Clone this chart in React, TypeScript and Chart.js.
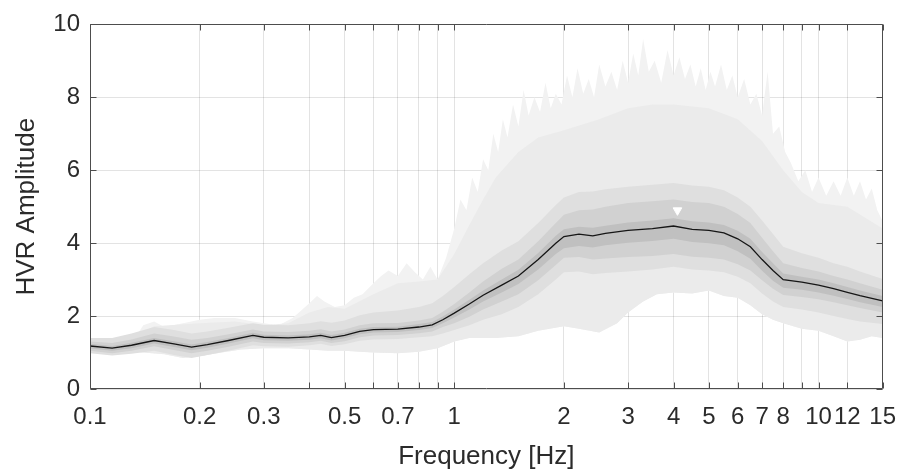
import React, { useEffect, useRef } from 'react';
import { Chart, registerables } from 'chart.js';

Chart.register(...registerables);

// Frequencies (Hz) for the median curve and percentile bands
const FREQ = [0.1, 0.115, 0.13, 0.15, 0.17, 0.19, 0.21, 0.24, 0.28, 0.3, 0.35, 0.4, 0.43, 0.46, 0.5, 0.55, 0.6, 0.7, 0.8, 0.87, 0.93, 1.0, 1.1, 1.2, 1.35, 1.5, 1.7, 1.9, 2.0, 2.2, 2.4, 2.6, 3.0, 3.5, 4.0, 4.5, 5.0, 5.5, 6.0, 6.5, 7.0, 7.5, 8.0, 9.0, 10, 11, 12, 13, 15];

const MEDIAN = [1.18, 1.12, 1.20, 1.33, 1.24, 1.15, 1.22, 1.33, 1.47, 1.42, 1.40, 1.43, 1.47, 1.41, 1.47, 1.58, 1.63, 1.64, 1.70, 1.76, 1.90, 2.08, 2.33, 2.57, 2.85, 3.10, 3.55, 4.00, 4.18, 4.25, 4.20, 4.27, 4.35, 4.40, 4.47, 4.38, 4.35, 4.28, 4.12, 3.90, 3.55, 3.25, 3.00, 2.93, 2.85, 2.75, 2.65, 2.56, 2.42];

// Inner (darkest) band
const BAND4_UP = [1.24, 1.18, 1.27, 1.40, 1.31, 1.22, 1.29, 1.40, 1.54, 1.49, 1.47, 1.50, 1.54, 1.48, 1.54, 1.65, 1.70, 1.71, 1.78, 1.84, 1.99, 2.18, 2.45, 2.70, 3.00, 3.27, 3.73, 4.20, 4.38, 4.45, 4.42, 4.48, 4.57, 4.62, 4.68, 4.60, 4.57, 4.50, 4.34, 4.12, 3.76, 3.45, 3.17, 3.08, 3.00, 2.90, 2.80, 2.70, 2.55];
const BAND4_LO = [1.11, 1.05, 1.12, 1.25, 1.15, 1.06, 1.13, 1.25, 1.39, 1.34, 1.32, 1.35, 1.39, 1.33, 1.39, 1.50, 1.55, 1.56, 1.62, 1.67, 1.80, 1.96, 2.18, 2.40, 2.65, 2.88, 3.28, 3.70, 3.86, 3.92, 3.88, 3.94, 4.01, 4.06, 4.12, 4.03, 4.00, 3.94, 3.78, 3.57, 3.24, 2.97, 2.78, 2.72, 2.65, 2.56, 2.47, 2.38, 2.25];

// Middle band
const BAND3_UP = [1.30, 1.26, 1.36, 1.52, 1.44, 1.35, 1.40, 1.50, 1.63, 1.58, 1.56, 1.60, 1.64, 1.58, 1.63, 1.75, 1.80, 1.81, 1.88, 1.95, 2.12, 2.33, 2.65, 2.95, 3.30, 3.55, 4.05, 4.55, 4.78, 4.90, 4.92, 5.00, 5.10, 5.15, 5.20, 5.13, 5.10, 5.00, 4.80, 4.55, 4.15, 3.78, 3.45, 3.32, 3.22, 3.10, 3.00, 2.90, 2.72];
const BAND3_LO = [1.05, 0.98, 1.05, 1.17, 1.07, 0.98, 1.05, 1.16, 1.30, 1.26, 1.25, 1.28, 1.32, 1.26, 1.31, 1.42, 1.47, 1.48, 1.53, 1.58, 1.70, 1.80, 1.98, 2.18, 2.40, 2.60, 2.98, 3.40, 3.60, 3.62, 3.55, 3.58, 3.62, 3.65, 3.70, 3.63, 3.60, 3.55, 3.42, 3.25, 2.98, 2.75, 2.58, 2.52, 2.46, 2.38, 2.30, 2.22, 2.10];

// Outer percentile band
const BAND2_UP = [1.40, 1.40, 1.52, 1.70, 1.62, 1.52, 1.58, 1.68, 1.80, 1.76, 1.75, 1.80, 1.86, 1.82, 1.88, 2.02, 2.10, 2.15, 2.25, 2.35, 2.55, 2.80, 3.15, 3.45, 3.80, 4.05, 4.55, 5.05, 5.25, 5.40, 5.42, 5.48, 5.55, 5.60, 5.65, 5.58, 5.55, 5.45, 5.25, 5.00, 4.62, 4.25, 3.90, 3.72, 3.60, 3.45, 3.35, 3.22, 3.02];
const BAND2_LO = [0.98, 0.92, 0.97, 1.05, 0.93, 0.85, 0.93, 1.05, 1.20, 1.17, 1.16, 1.20, 1.24, 1.18, 1.23, 1.32, 1.36, 1.37, 1.42, 1.45, 1.52, 1.62, 1.75, 1.90, 2.05, 2.25, 2.60, 3.00, 3.20, 3.22, 3.15, 3.18, 3.22, 3.28, 3.35, 3.28, 3.25, 3.20, 3.08, 2.90, 2.62, 2.40, 2.25, 2.18, 2.10, 2.00, 1.92, 1.85, 1.78];

// Solid part of the light envelope (upper)
const ENV_FREQ = [0.1, 0.13, 0.15, 0.2, 0.25, 0.3, 0.35, 0.4, 0.45, 0.5, 0.6, 0.7, 0.8, 0.9, 1.0, 1.1, 1.2, 1.3, 1.5, 1.7, 2.0, 2.5, 3.0, 3.5, 4.0, 5.0, 6.0, 7.0, 8.0, 9.0, 10, 12, 15];
const ENV_VAL = [1.25, 1.4, 1.72, 1.8, 1.85, 1.75, 1.8, 2.1, 2.25, 2.2, 2.6, 2.9, 2.95, 3.0, 3.7, 4.5, 5.2, 5.8, 6.5, 6.9, 7.1, 7.4, 7.7, 7.8, 7.8, 7.7, 7.4, 6.8, 6.0, 5.4, 5.1, 5.0, 4.4];

// Envelope (all windows) maximum, spiky
const MAX_FREQ = [0.1, 0.12, 0.135, 0.14, 0.15, 0.16, 0.18, 0.2, 0.22, 0.25, 0.28, 0.3, 0.33, 0.36, 0.38, 0.4, 0.42, 0.44, 0.47, 0.5, 0.53, 0.56, 0.6, 0.63, 0.66, 0.7, 0.74, 0.78, 0.82, 0.86, 0.9, 0.95, 1.0, 1.04, 1.08, 1.12, 1.16, 1.2, 1.24, 1.28, 1.32, 1.36, 1.4, 1.45, 1.5, 1.55, 1.6, 1.66, 1.72, 1.78, 1.84, 1.9, 1.97, 2.04, 2.11, 2.18, 2.26, 2.34, 2.42, 2.5, 2.6, 2.7, 2.8, 2.9, 3.0, 3.1, 3.2, 3.3, 3.42, 3.55, 3.7, 3.85, 4.0, 4.15, 4.3, 4.45, 4.6, 4.75, 4.9, 5.05, 5.2, 5.4, 5.6, 5.8, 6.0, 6.25, 6.5, 6.75, 7.0, 7.25, 7.5, 7.8, 8.1, 8.4, 8.8, 9.2, 9.6, 10, 10.5, 11, 11.5, 12, 12.5, 13, 13.5, 14, 14.5, 15];
const MAX_VAL = [1.25, 1.3, 1.5, 1.75, 1.85, 1.7, 1.8, 1.9, 1.95, 1.95, 1.85, 1.8, 1.75, 1.95, 2.15, 2.35, 2.55, 2.4, 2.25, 2.3, 2.5, 2.6, 2.9, 3.1, 3.25, 3.1, 3.45, 3.2, 3.0, 3.35, 3.0, 3.6, 4.4, 5.2, 4.9, 5.8, 5.4, 6.3, 6.0, 7.0, 6.5, 7.4, 6.9, 7.8, 7.2, 8.2, 7.5, 8.0, 7.6, 8.4, 7.7, 8.1, 7.8, 8.6, 8.0, 8.8, 8.1, 8.5, 8.0, 8.9, 8.3, 8.7, 8.2, 9.0, 8.4, 9.2, 8.6, 9.6, 8.7, 9.0, 8.4, 9.3, 8.6, 9.1, 8.5, 8.9, 8.3, 8.8, 8.2, 8.7, 8.3, 8.9, 8.2, 8.6, 8.0, 8.5, 7.8, 8.1, 7.5, 8.7, 7.0, 7.2, 6.5, 6.2, 5.7, 6.0, 5.4, 5.8, 5.3, 5.7, 5.3, 5.8, 5.3, 5.7, 5.2, 5.5, 4.9, 4.6];

// Envelope minimum
const MIN_FREQ = [0.1, 0.12, 0.14, 0.16, 0.18, 0.2, 0.23, 0.26, 0.3, 0.35, 0.4, 0.45, 0.5, 0.55, 0.6, 0.7, 0.8, 0.9, 1.0, 1.1, 1.3, 1.5, 1.7, 2.0, 2.2, 2.5, 2.8, 3.0, 3.3, 3.6, 4.0, 4.5, 5.0, 5.5, 6.0, 6.5, 7.0, 7.5, 8.0, 9.0, 10, 11, 12, 13, 14, 15];
const MIN_VAL = [1.1, 1.05, 1.0, 0.95, 0.85, 0.9, 1.0, 1.08, 1.12, 1.12, 1.08, 1.05, 1.05, 1.02, 1.0, 0.98, 1.02, 1.12, 1.3, 1.4, 1.4, 1.45, 1.6, 1.72, 1.65, 1.55, 1.8, 2.1, 2.4, 2.6, 2.65, 2.62, 2.7, 2.55, 2.5, 2.3, 2.05, 1.9, 1.8, 1.65, 1.6, 1.45, 1.3, 1.35, 1.45, 1.4];

// Peak marker
const PEAK_FREQ = [4.1];
const PEAK_VAL = [4.9];

const X_TICKS = [0.1, 0.2, 0.3, 0.4, 0.5, 0.6, 0.7, 0.8, 0.9, 1, 2, 3, 4, 5, 6, 7, 8, 9, 10, 12, 15];
const X_LABELED = [0.1, 0.2, 0.3, 0.5, 0.7, 1, 2, 3, 4, 5, 6, 7, 8, 10, 12, 15];
const Y_TICKS = [0, 2, 4, 6, 8, 10];

const TEXT = '#2b2b2b';
const FONT = "'Liberation Sans', Arial, sans-serif";

const pts = (xs: number[], ys: number[]) => xs.map((x, i) => ({ x, y: ys[i] }));

const band = (data: { x: number; y: number }[], fill: any, color: string) => ({
  data,
  fill,
  backgroundColor: color,
  borderColor: 'rgba(0,0,0,0)',
  borderWidth: 0,
  pointRadius: 0,
  tension: 0,
});

const framePlugin = {
  id: 'frame',
  afterDraw(chart: any) {
    const { ctx, chartArea: a, scales } = chart;
    ctx.save();
    ctx.strokeStyle = '#4d4d4d';
    ctx.lineWidth = 1;
    const L = Math.round(a.left) + 0.5;
    const R = Math.round(a.right) - 0.5;
    const T = Math.round(a.top) + 0.5;
    const B = Math.round(a.bottom) - 0.5;
    ctx.beginPath();
    ctx.rect(L, T, R - L, B - T);
    const len = 6;
    X_TICKS.forEach((v) => {
      const px = Math.round(scales.x.getPixelForValue(v)) + 0.5;
      ctx.moveTo(px, B);
      ctx.lineTo(px, B - len);
      ctx.moveTo(px, T);
      ctx.lineTo(px, T + len);
    });
    Y_TICKS.forEach((v) => {
      const py = Math.round(scales.y.getPixelForValue(v)) + 0.5;
      ctx.moveTo(L, py);
      ctx.lineTo(L + len, py);
      ctx.moveTo(R, py);
      ctx.lineTo(R - len, py);
    });
    ctx.stroke();
    ctx.restore();
  },
};

export default function App() {
  const canvasRef = useRef<HTMLCanvasElement | null>(null);

  useEffect(() => {
    if (!canvasRef.current) return;
    const chart = new Chart(canvasRef.current, {
      type: 'line',
      data: {
        datasets: [
          {
            data: pts(PEAK_FREQ, PEAK_VAL),
            showLine: false,
            pointStyle: 'triangle',
            rotation: 180,
            pointRadius: 5,
            backgroundColor: '#ffffff',
            borderColor: '#ffffff',
            borderWidth: 1,
          },
          {
            data: pts(FREQ, MEDIAN),
            borderColor: '#161616',
            borderWidth: 1.3,
            pointRadius: 0,
            fill: false,
            tension: 0,
          },
          band(pts(FREQ, BAND4_UP), '+1', '#c0c0c0'),
          band(pts(FREQ, BAND4_LO), false, '#c0c0c0'),
          band(pts(FREQ, BAND3_UP), '+1', '#d1d1d1'),
          band(pts(FREQ, BAND3_LO), false, '#d1d1d1'),
          band(pts(FREQ, BAND2_UP), '+1', '#dfdfdf'),
          band(pts(FREQ, BAND2_LO), false, '#dfdfdf'),
          band(pts(ENV_FREQ, ENV_VAL), { target: 10 }, '#ebebeb'),
          band(pts(MAX_FREQ, MAX_VAL), { target: 10 }, '#f2f2f2'),
          band(pts(MIN_FREQ, MIN_VAL), false, '#ebebeb'),
        ],
      },
      options: {
        animation: false,
        responsive: true,
        maintainAspectRatio: false,
        layout: { padding: { left: 0, right: 17, top: 17, bottom: 0 } },
        plugins: {
          legend: { display: false },
          tooltip: { enabled: false },
        },
        scales: {
          x: {
            type: 'logarithmic',
            min: 0.1,
            max: 15,
            afterBuildTicks: (scale: any) => {
              scale.ticks = X_TICKS.map((v) => ({ value: v }));
            },
            afterFit: (scale: any) => {
              scale.height = 83;
            },
            ticks: {
              autoSkip: false,
              maxRotation: 0,
              minRotation: 0,
              padding: 14,
              color: TEXT,
              font: { family: FONT, size: 24 },
              callback: (value: any) => {
                const v = Number(value);
                const hit = X_LABELED.find((t) => Math.abs(t - v) < 1e-9);
                return hit === undefined ? '' : String(hit);
              },
            },
            grid: {
              color: 'rgba(38,38,38,0.13)',
              drawTicks: false,
            },
            border: { display: false },
            title: {
              display: true,
              text: 'Frequency [Hz]',
              color: TEXT,
              font: { family: FONT, size: 26 },
              padding: { top: 0, bottom: 0 },
            },
          },
          y: {
            type: 'linear',
            min: 0,
            max: 10,
            afterBuildTicks: (scale: any) => {
              scale.ticks = Y_TICKS.map((v) => ({ value: v }));
            },
            afterFit: (scale: any) => {
              scale.width = 90;
            },
            ticks: {
              padding: 10,
              color: TEXT,
              font: { family: FONT, size: 24 },
              callback: (value: any) => String(value),
            },
            grid: {
              color: 'rgba(38,38,38,0.13)',
              drawTicks: false,
            },
            border: { display: false },
            title: {
              display: true,
              text: 'HVR Amplitude',
              color: TEXT,
              font: { family: FONT, size: 26 },
              padding: { top: 11, bottom: 0 },
            },
          },
        },
      },
      plugins: [framePlugin],
    } as any);
    return () => chart.destroy();
  }, []);

  return (
    <div style={{ position: 'fixed', left: 0, top: 0, width: 910, height: 472 }}>
      <canvas ref={canvasRef} />
    </div>
  );
}
